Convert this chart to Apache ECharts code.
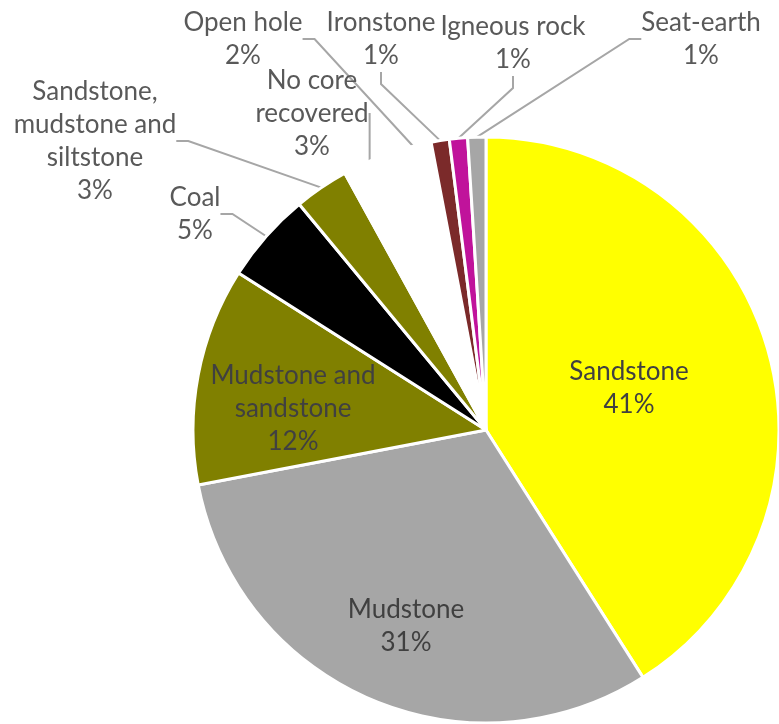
<!DOCTYPE html>
<html>
<head>
<meta charset="utf-8">
<script src="https://cdn.jsdelivr.net/npm/echarts@6/dist/echarts.min.js"></script>
<style>
  html, body { margin: 0; padding: 0; background: #ffffff; }
  #chart { width: 779px; height: 724px; }
</style>
</head>
<body>
<div id="chart"></div>
<script>
// Core-log lithology breakdown (share of logged length, %)
const categories = [
  'Sandstone',
  'Mudstone',
  'Mudstone and\nsandstone',
  'Coal',
  'Sandstone,\nmudstone and\nsiltstone',
  'No core\nrecovered',
  'Open hole',
  'Ironstone',
  'Igneous rock',
  'Seat-earth'
];
const shares = [41, 31, 12, 5, 3, 3, 2, 1, 1, 1];

// Slice fills, in the same order as the categories
const sliceColors = ['#FFFF00', '#A6A6A6', '#808000', '#000000', '#808000',
                     '#FFFFFF', '#FFFFFF', '#7B2A2A', '#C0139B', '#A6A6A6'];

// Which labels sit on their slice (no leader line)
const labelInside = [true, true, true, false, false, false, false, false, false, false];

// Label block centres, px
const labelAnchors = [
  [629, 388], [406, 626], [293, 409], [195, 214], [95, 141],
  [312, 114], [243, 39], [381, 39], [513, 43], [701, 39]
];

const chart = echarts.init(document.getElementById('chart'), null, { renderer: 'canvas' });

const pieData = categories.map((name, i) => ({
  name: name,
  value: shares[i],
  itemStyle: { color: sliceColors[i] },
  label: labelInside[i] ? { color: '#404040' } : {},
  labelLine: labelInside[i] ? { show: false } : {}
}));

chart.setOption({
  animation: false,
  backgroundColor: '#ffffff',
  series: [{
    type: 'pie',
    center: [486, 430],
    radius: 293,
    startAngle: 90,
    clockwise: true,
    avoidLabelOverlap: false,
    silent: true,
    itemStyle: { borderColor: '#ffffff', borderWidth: 3 },
    label: {
      show: true,
      position: 'outside',
      formatter: p => p.name + '\n' + Math.round(p.percent) + '%',
      fontFamily: 'Lato',
      fontSize: 26,
      lineHeight: 33,
      color: '#595959',
      align: 'center'
    },
    labelLine: {
      show: true,
      length: 10,
      length2: 12,
      lineStyle: { color: '#A6A6A6', width: 2 }
    },
    labelLayout: p => ({
      x: labelAnchors[p.dataIndex][0],
      y: labelAnchors[p.dataIndex][1],
      align: 'center',
      verticalAlign: 'middle'
    }),
    data: pieData
  }]
});
</script>
</body>
</html>
